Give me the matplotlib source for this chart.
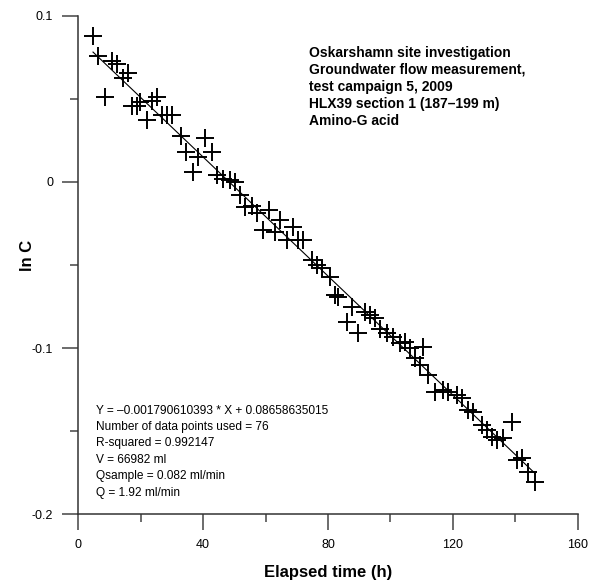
import numpy as np
import matplotlib
matplotlib.use("Agg")
import matplotlib.pyplot as plt

plt.rcParams['font.family'] = ['Liberation Sans', 'DejaVu Sans']
plt.rcParams['axes.unicode_minus'] = False

# elapsed time (h) and ln C
elapsed_h = [4.7, 6.3, 8.6, 10.8, 12.4, 14.3, 15.9, 17.2, 18.8, 19.8,
             22.0, 23.6, 25.2, 26.8, 28.4, 30.0, 32.9, 34.5, 36.8, 38.4,
             40.6, 42.9, 44.5, 46.4, 48.6, 50.2, 51.8, 53.4, 55.7, 57.3,
             59.2, 61.1, 63.1, 64.7, 66.9, 68.8, 70.4, 72.0, 74.9, 76.5,
             78.1, 80.7, 82.3, 83.2, 86.1, 87.7, 89.7, 91.9, 93.5, 95.1,
             96.7, 98.9, 100.9, 103.1, 104.7, 106.3, 110.5, 107.9, 109.5, 112.1,
             114.3, 116.9, 118.5, 121.4, 123.0, 124.9, 126.5, 129.4, 131.0, 132.6,
             134.2, 136.1, 139.0, 140.6, 142.2, 144.1, 146.4]
ln_c = [0.0880, 0.0759, 0.0512, 0.0729, 0.0711, 0.0627, 0.0657, 0.0458, 0.0458, 0.0482,
        0.0373, 0.0488, 0.0512, 0.0404, 0.0404, 0.0404, 0.0277, 0.0181, 0.0060, 0.0151,
        0.0265, 0.0181, 0.0042, 0.0018, 0.0012, 0.0000, -0.0078, -0.0151, -0.0145, -0.0187,
        -0.0289, -0.0169, -0.0301, -0.0229, -0.0349, -0.0271, -0.0349, -0.0349, -0.0470, -0.0500,
        -0.0518, -0.0572, -0.0681, -0.0693, -0.0843, -0.0753, -0.0910, -0.0783, -0.0801, -0.0819,
        -0.0886, -0.0910, -0.0934, -0.0970, -0.0964, -0.1000, -0.0994, -0.1060, -0.1102, -0.1163,
        -0.1265, -0.1253, -0.1265, -0.1283, -0.1301, -0.1373, -0.1386, -0.1464, -0.1494, -0.1536,
        -0.1554, -0.1542, -0.1446, -0.1675, -0.1663, -0.1747, -0.1807]

slope = -0.001790610393
intercept = 0.08658635015

title_lines = ["Oskarshamn site investigation",
               "Groundwater flow measurement,",
               "test campaign 5, 2009",
               "HLX39 section 1 (187\u2013199 m)",
               "Amino-G acid"]
info_lines = ["Y = \u20130.001790610393 * X + 0.08658635015",
              "Number of data points used = 76",
              "R-squared = 0.992147",
              "V = 66982 ml",
              "Qsample = 0.082 ml/min",
              "Q = 1.92 ml/min"]

fig = plt.figure(figsize=(5.98, 5.85), dpi=100)
ax = fig.add_axes([0.131, 0.121, 0.835, 0.852])

ax.plot(elapsed_h, ln_c, linestyle='none', marker='+', markersize=12.5,
        markeredgewidth=1.4, color='black')
x_fit = np.array([min(elapsed_h), max(elapsed_h)])
ax.plot(x_fit, slope * x_fit + intercept, color='black', linewidth=0.8)

ax.set_xlim(0, 160)
ax.set_ylim(-0.2, 0.1)
ax.set_xticks([0, 40, 80, 120, 160])
ax.set_xticks([20, 60, 100, 140], minor=True)
ax.set_yticks([-0.2, -0.1, 0, 0.1])
ax.set_yticklabels(["-0.2", "-0.1", "0", "0.1"])
ax.set_yticks([-0.15, -0.05, 0.05], minor=True)

for side in ['top', 'right']:
    ax.spines[side].set_visible(False)
for side in ['left', 'bottom']:
    ax.spines[side].set_color('#333333')
    ax.spines[side].set_linewidth(1.1)
ax.tick_params(which='major', direction='out', length=11.5, width=1.1,
               color='#444444', labelsize=9, pad=6.5)
ax.tick_params(which='minor', direction='out', length=5.8, width=1.1,
               color='#444444')

ax.set_xlabel("Elapsed time (h)", fontsize=12, fontweight='bold', labelpad=10)
ax.set_ylabel("ln C", fontsize=12, fontweight='bold')
ax.yaxis.set_label_coords(-0.087, 0.52)

ax.text(0.462, 0.94, "\n".join(title_lines), transform=ax.transAxes,
        fontsize=10, fontweight='bold', va='top', ha='left', linespacing=1.29)
ax.text(0.035, 0.22, "\n".join(info_lines), transform=ax.transAxes,
        fontsize=8.6, va='top', ha='left', linespacing=1.49)

fig.savefig("out.png", dpi=100)
